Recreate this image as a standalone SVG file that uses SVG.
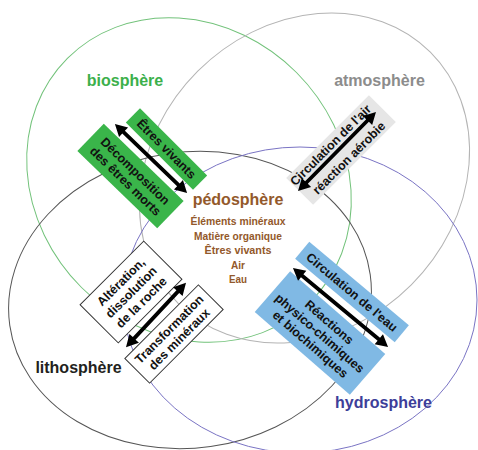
<svg xmlns="http://www.w3.org/2000/svg" width="478" height="450" viewBox="0 0 478 450">
  <style>
    .sphere { fill: none; stroke-width: 1; }
    .lbl { font-family: "Liberation Sans", Arial, sans-serif; font-weight: bold; text-anchor: middle; }
    .big { font-size: 16px; }
    .bt { font-family: "Liberation Sans", Arial, sans-serif; font-weight: bold; font-size: 12.5px; fill: #111; text-anchor: middle; }
    .green { fill: #3ab54a; }
    .grey { fill: #e6e6e6; }
    .white { fill: #ffffff; stroke: #333333; stroke-width: 1; }
    .blue { fill: #80b9e4; }
    .arrow { fill: #000000; }
    .pedo { fill: #93592b; }
  </style>
  <rect width="478" height="450" fill="#ffffff"/>

  <!-- the four spheres -->
  <g id="spheres">
    <ellipse id="bio-ring" class="sphere" stroke="#72c27a" cx="189" cy="180" rx="172" ry="152" transform="rotate(45 189 180)"/>
    <ellipse id="atmo-ring" class="sphere" stroke="#b4b4b4" cx="304.5" cy="178" rx="178" ry="151" transform="rotate(-45 304.5 178)"/>
    <ellipse id="litho-ring" class="sphere" stroke="#555555" cx="190" cy="300" rx="182" ry="148" transform="rotate(-8 190 300)"/>
    <ellipse id="hydro-ring" class="sphere" stroke="#7a74c4" cx="300" cy="300" rx="177" ry="153"/>
  </g>

  <!-- exchange boxes -->
  <g id="box-etres-vivants" transform="translate(166.5,149) rotate(45)">
    <rect class="green" x="-47.5" y="-10" width="95" height="20"/>
    <text class="bt" y="4.3" font-size="12">Êtres vivants</text>
  </g>
  <g id="box-decomposition" transform="translate(130.5,176) rotate(44)">
    <rect class="green" x="-55.5" y="-19" width="111" height="38"/>
    <text class="bt" y="-2.5">Décomposition</text>
    <text class="bt" y="11.5">des êtres morts</text>
  </g>
  <g id="box-air" transform="translate(341,150) rotate(-45)">
    <rect class="grey" x="-58.5" y="-19" width="117" height="38"/>
    <text class="bt" x="-4" y="-6.5">Circulation de l'air</text>
    <text class="bt" x="0" y="15.5" font-size="12">réaction aérobie</text>
  </g>
  <g id="box-alteration" transform="translate(131,292) rotate(-45)">
    <rect class="white" x="-45" y="-27" width="90" height="54"/>
    <text class="bt" y="-10">Altération,</text>
    <text class="bt" y="4.5">dissolution</text>
    <text class="bt" y="19">de la roche</text>
  </g>
  <g id="box-transformation" transform="translate(174,334) rotate(-45)">
    <rect class="white" x="-52" y="-17.5" width="104" height="35"/>
    <text class="bt" y="-2.5">Transformation</text>
    <text class="bt" y="11.5">des minéraux</text>
  </g>
  <g id="box-eau" transform="translate(352,292) rotate(40)">
    <rect class="blue" x="-65" y="-11" width="130" height="22"/>
    <text class="bt" y="4.5">Circulation de l'eau</text>
  </g>
  <g id="box-reactions" transform="translate(320,333) rotate(41)">
    <rect class="blue" x="-63" y="-27" width="126" height="54"/>
    <text class="bt" y="-10">Réactions</text>
    <text class="bt" y="4.5">physico-chimiques</text>
    <text class="bt" y="19">et biochimiques</text>
  </g>

  <!-- double-headed exchange arrows -->
  <g id="connectors" class="arrow">
    <path transform="translate(151,158.5) rotate(43.8)" d="M-50,0 L-38,-6.5 L-38,-1.9 L38,-1.9 L38,-6.5 L50,0 L38,6.5 L38,1.9 L-38,1.9 L-38,6.5 Z"/>
    <path transform="translate(337,151.5) rotate(-45.4)" d="M-55.5,0 L-43.5,-6.5 L-43.5,-1.9 L43.5,-1.9 L43.5,-6.5 L55.5,0 L43.5,6.5 L43.5,1.9 L-43.5,1.9 L-43.5,6.5 Z"/>
    <path transform="translate(156,315) rotate(-47)" d="M-44,0 L-32,-6.5 L-32,-1.9 L32,-1.9 L32,-6.5 L44,0 L32,6.5 L32,1.9 L-32,1.9 L-32,6.5 Z"/>
    <path transform="translate(340.5,307.5) rotate(39.7)" d="M-61.8,0 L-49.8,-6.5 L-49.8,-1.9 L49.8,-1.9 L49.8,-6.5 L61.8,0 L49.8,6.5 L49.8,1.9 L-49.8,1.9 L-49.8,6.5 Z"/>
  </g>

  <!-- sphere names -->
  <g id="label-biosphere"><text class="lbl big" x="125" y="86" fill="#3cb04b">biosphère</text></g>
  <g id="label-atmosphere"><text class="lbl big" x="379.5" y="86" fill="#8c8c8c">atmosphère</text></g>
  <g id="label-lithosphere"><text class="lbl big" x="78.5" y="373" fill="#231f20">lithosphère</text></g>
  <g id="label-hydrosphere"><text class="lbl big" x="383.5" y="408" fill="#3d3e99">hydrosphère</text></g>

  <!-- soil at the centre -->
  <g id="pedosphere" class="pedo">
    <text class="lbl big" x="238" y="205">pédosphère</text>
    <text class="lbl" x="238" y="225" font-size="11.5" textLength="95" lengthAdjust="spacingAndGlyphs">Éléments minéraux</text>
    <text class="lbl" x="238" y="239.5" font-size="11.5" textLength="88" lengthAdjust="spacingAndGlyphs">Matière organique</text>
    <text class="lbl" x="238" y="254" font-size="11.5" textLength="67" lengthAdjust="spacingAndGlyphs">Êtres vivants</text>
    <text class="lbl" x="238" y="268.5" font-size="11.5" textLength="14" lengthAdjust="spacingAndGlyphs">Air</text>
    <text class="lbl" x="238" y="283" font-size="11.5" textLength="18" lengthAdjust="spacingAndGlyphs">Eau</text>
  </g>
</svg>
